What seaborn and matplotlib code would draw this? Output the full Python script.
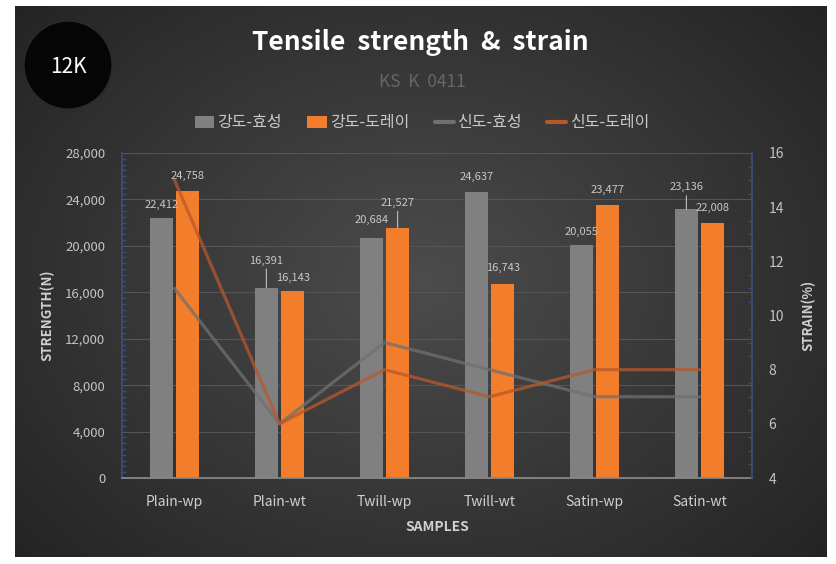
import numpy as np
import pandas as pd
import matplotlib
matplotlib.use("Agg")
import matplotlib.pyplot as plt
import seaborn as sns
from matplotlib.patches import Circle
from matplotlib.lines import Line2D
from matplotlib.patches import Patch
from matplotlib.ticker import AutoMinorLocator, FuncFormatter

samples = ["Plain-wp", "Plain-wt", "Twill-wp", "Twill-wt", "Satin-wp", "Satin-wt"]
strength_hyosung = [22412, 16391, 20684, 24637, 20055, 23136]
strength_toray = [24758, 16143, 21527, 16743, 23477, 22008]
strain_hyosung = [11, 6, 9, 8, 7, 7]
strain_toray = [15, 6, 8, 7, 8, 8]
bar_names = ["강도-효성", "강도-도레이"]
line_names = ["신도-효성", "신도-도레이"]

sns.set_theme(style="dark")
plt.rcParams['font.family'] = ['Noto Sans CJK KR', 'DejaVu Sans']

W, H = 837, 564
fig = plt.figure(figsize=(W / 100, H / 100), dpi=100)
fig.patch.set_facecolor("white")

# background panel with radial gradient
bg = fig.add_axes([15 / W, (H - 557) / H, (827 - 15) / W, (557 - 6) / H])
yy, xx = np.mgrid[0:1:300j, 0:1:450j]
r = np.sqrt(((xx - 0.5) / 0.75) ** 2 + ((yy - 0.5) / 0.85) ** 2)
vals = np.clip(1 - r, 0, 1)
c0 = np.array([0x1f, 0x1f, 0x1f]) / 255
c1 = np.array([0x4c, 0x4c, 0x4c]) / 255
img = c0[None, None, :] + (c1 - c0)[None, None, :] * vals[..., None]
bg.imshow(img, aspect="auto", extent=[0, 1, 0, 1])
bg.set_axis_off()

# main axes
ax = fig.add_axes([122 / W, (H - 478) / H, 630 / W, 325 / H])
ax.set_facecolor("none")

df = pd.DataFrame({
    "sample": samples * 2,
    "strength": strength_hyosung + strength_toray,
    "maker": [bar_names[0]] * len(samples) + [bar_names[1]] * len(samples),
})
bar_colors = ["#808080", "#F27E2B"]
sns.barplot(data=df, x="sample", y="strength", hue="maker", hue_order=bar_names,
            palette=bar_colors, width=0.5, gap=0.1, ax=ax, legend=False,
            saturation=1, linewidth=0.0)

ax.set_ylim(0, 28000)
ax.set_xlim(-0.5, len(samples) - 0.5)
ax.set_yticks(np.arange(0, 28001, 4000))
ax.yaxis.set_major_formatter(FuncFormatter(lambda v, p: f"{int(v):,}"))
ax.yaxis.set_minor_locator(AutoMinorLocator(8))
ax.grid(axis="y", color="#555555", linewidth=0.8)
ax.grid(axis="x", visible=False)
ax.set_axisbelow(True)
ax.spines["top"].set_visible(False)
ax.spines["left"].set_color("#3a4f78")
ax.spines["right"].set_visible(False)
ax.spines["bottom"].set_color("#8a8a8a")
ax.tick_params(axis="y", colors="#c4c4c4", labelsize=9.5, length=0, pad=12)
ax.tick_params(axis="y", which="minor", color="#3a4f78", length=3, direction="in", left=True)
ax.tick_params(axis="x", colors="#d0d0d0", labelsize=10, length=0, pad=12)
ax.set_xlabel("SAMPLES", color="#d0d0d0", fontsize=10, fontweight="bold", labelpad=8)
ax.set_ylabel("STRENGTH(N)", color="#d0d0d0", fontsize=9.5, fontweight="bold", labelpad=8)

# bar labels
bars = ax.patches
gray_bars = bars[:len(samples)]
orange_bars = bars[len(samples):2 * len(samples)]
gray_dy = [13, 27, 18, 15, 13, 22]
orange_dy = [15, 13, 25, 16, 16, 15]
gray_leader = [False, True, False, False, False, True]
orange_leader = [False, False, True, False, False, False]
for group, vals_, dys, leaders in [(gray_bars, strength_hyosung, gray_dy, gray_leader),
                                   (orange_bars, strength_toray, orange_dy, orange_leader)]:
    for b, v, dy, ld in zip(group, vals_, dys, leaders):
        xc = b.get_x() + b.get_width() / 2
        kw = {}
        if ld:
            kw["arrowprops"] = dict(arrowstyle="-", color="#bfbfbf", lw=0.8, shrinkA=0, shrinkB=0)
        ax.annotate(f"{v:,}", xy=(xc, b.get_height()), xytext=(0, dy * 0.72),
                    textcoords="offset points", ha="center", va="center",
                    fontsize=8, color="#c8c8c8", **kw)

# strain lines
ax2 = ax.twinx()
xpos = np.arange(len(samples))
sns.lineplot(x=xpos, y=strain_hyosung, ax=ax2, color="#707070", linewidth=2.3, alpha=0.75)
sns.lineplot(x=xpos, y=strain_toray, ax=ax2, color="#b8582a", linewidth=2.3, alpha=0.75)
ax2.set_ylim(4, 16)
ax2.set_yticks(np.arange(4, 17, 2))
ax2.yaxis.set_minor_locator(AutoMinorLocator(4))
ax2.grid(False)
ax2.set_facecolor("none")
for s in ["top", "left", "bottom"]:
    ax2.spines[s].set_visible(False)
ax2.spines["right"].set_color("#3a4f78")
ax2.tick_params(axis="y", colors="#c4c4c4", labelsize=10, length=0, pad=12)
ax2.tick_params(axis="y", which="minor", color="#3a4f78", length=3, direction="in", right=True)
ax2.set_ylabel("STRAIN(%)", color="#d0d0d0", fontsize=9.5, fontweight="bold", labelpad=12)

# title, subtitle
fig.text(420 / W, 1 - 43 / H, "Tensile  strength  &  strain", ha="center", va="center",
         color="white", fontsize=19, fontweight="bold")
fig.text(422 / W, 1 - 82 / H, "KS  K  0411", ha="center", va="center",
         color="#666666", fontsize=12.5)

# 12K circle
circ = Circle((68 / 100, (H - 65) / 100), 0.44, transform=fig.dpi_scale_trans,
              facecolor="#060606", edgecolor="#2a2a2a", linewidth=1.0, zorder=5)
fig.add_artist(circ)
fig.text(68 / W, 1 - 67 / H, "12K", ha="center", va="center", color="white",
         fontsize=15, zorder=6)

# legend
handles = [Patch(facecolor=bar_colors[0], edgecolor="none"),
           Patch(facecolor=bar_colors[1], edgecolor="none"),
           Line2D([], [], color="#707070", linewidth=3),
           Line2D([], [], color="#b8582a", linewidth=3)]
leg = fig.legend(handles, bar_names + line_names, loc="center", ncol=4,
                 bbox_to_anchor=(422 / W, 1 - 123 / H), frameon=False,
                 fontsize=11.5, handlelength=1.2, handleheight=0.8, handletextpad=0.2,
                 columnspacing=1.6, labelcolor="#c8c8c8")

fig.savefig("out.png", dpi=100, facecolor=fig.get_facecolor())
